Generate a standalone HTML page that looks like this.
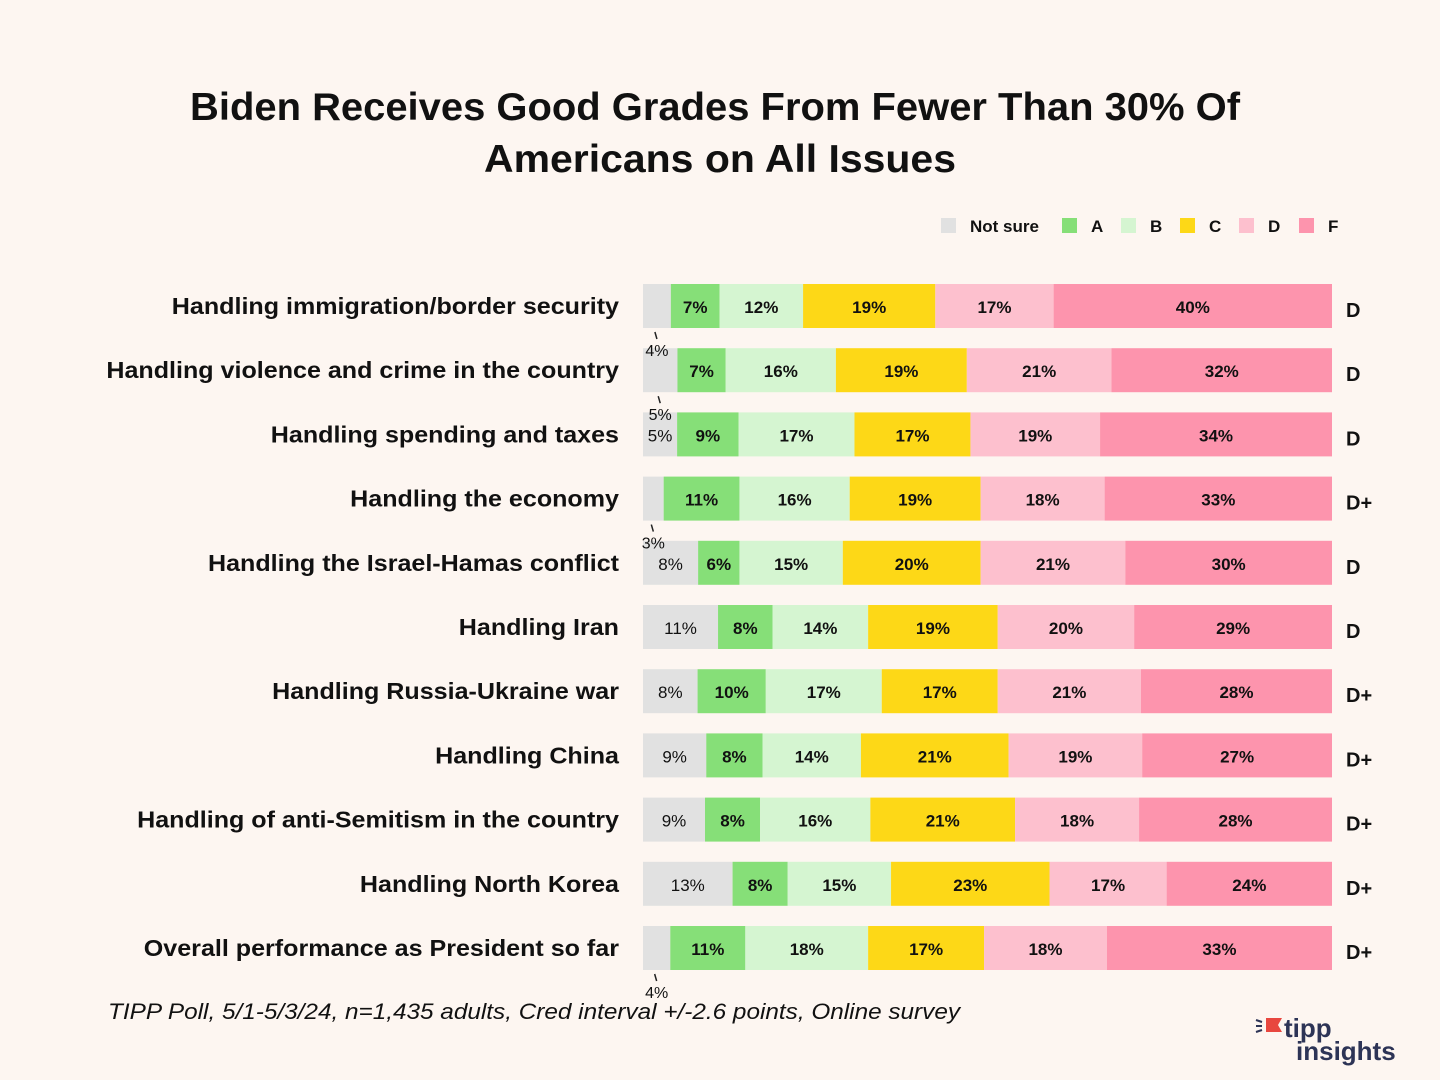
<!DOCTYPE html>
<html><head><meta charset="utf-8">
<style>
body{margin:0;background:#fdf6f1;}
svg{display:block;font-family:"Liberation Sans",sans-serif;}
</style></head>
<body>
<svg id="chart" width="1440" height="1080" viewBox="0 0 1440 1080">
<rect width="1440" height="1080" fill="#fdf6f1"/>
<text x="190" y="120" textLength="1050" lengthAdjust="spacingAndGlyphs" font-size="39" font-weight="bold" fill="#111">Biden Receives Good Grades From Fewer Than 30% Of</text>
<text x="484" y="172" textLength="472" lengthAdjust="spacingAndGlyphs" font-size="39" font-weight="bold" fill="#111">Americans on All Issues</text>
<g id="legend"></g>
<g id="bars"></g>
<text x="108" y="1019" textLength="852" lengthAdjust="spacingAndGlyphs" font-size="22" font-style="italic" fill="#111">TIPP Poll, 5/1-5/3/24, n=1,435 adults, Cred interval +/-2.6 points, Online survey</text>
<g>
<path d="M1266 1018 h16 l-4 7 l4 7 h-16 z" fill="#e8473f"/>
<line x1="1256" y1="1020" x2="1262" y2="1022" stroke="#2d3456" stroke-width="2"/>
<line x1="1256" y1="1026" x2="1262" y2="1026" stroke="#2d3456" stroke-width="2"/>
<line x1="1256" y1="1032" x2="1262" y2="1030" stroke="#2d3456" stroke-width="2"/>
<text x="1284" y="1037" font-size="26" font-weight="bold" fill="#2d3456">tipp</text>
<text x="1296" y="1060" font-size="26" font-weight="bold" fill="#2d3456">insights</text>
</g>
</svg>
<script>
const categories=["Handling immigration/border security","Handling violence and crime in the country","Handling spending and taxes","Handling the economy","Handling the Israel-Hamas conflict","Handling Iran","Handling Russia-Ukraine war","Handling China","Handling of anti-Semitism in the country","Handling North Korea","Overall performance as President so far"];
const notSure=[4,5,5,3,8,11,8,9,9,13,4];
const gradeA=[7,7,9,11,6,8,10,8,8,8,11];
const gradeB=[12,16,17,16,15,14,17,14,16,15,18];
const gradeC=[19,19,17,19,20,19,17,21,21,23,17];
const gradeD=[17,21,19,18,21,20,21,19,18,17,18];
const gradeF=[40,32,34,33,30,29,28,27,28,24,33];
const overall=["D","D","D","D+","D","D","D+","D+","D+","D+","D+"];
const calloutRows=[true,true,false,true,false,false,false,false,false,false,true];
const seriesNames=["Not sure","A","B","C","D","F"];
const series=[notSure,gradeA,gradeB,gradeC,gradeD,gradeF];
const colors=["#e1e1e1","#86df78","#d5f5d1","#fdd817","#fdc0ce","#fd94ad"];
const NS="http://www.w3.org/2000/svg";
function mk(t,a,p){const e=document.createElementNS(NS,t);for(const k in a)e.setAttribute(k,a[k]);p.appendChild(e);return e;}
const X0=643,X1=1332,Y0=284,STEP=64.2,H=44;
const yPos=i=>Y0+i*STEP;
const bars=document.getElementById('bars');
const callouts=[];
categories.forEach((c,i)=>{
  const y=yPos(i);
  const lab=mk('text',{x:619,y:y+30,'text-anchor':'end','font-size':23,'font-weight':'bold',fill:'#111'},bars);
  
  
  lab.textContent=c;
  const L=lab.getComputedTextLength();
  lab.setAttribute('textLength',(L*1.09).toFixed(1));
  lab.setAttribute('lengthAdjust','spacingAndGlyphs');
  const tot=series.reduce((s,a)=>s+a[i],0);
  const xs=v=>v/tot*(X1-X0);
  let x=X0;
  series.forEach((s,j)=>{
    const w=xs(s[i]);
    const r=mk('rect',{x:x,y:y,width:w,height:H,fill:colors[j]},bars);
    
    
    const cx=x+w/2;
    if(j===0&&calloutRows[i]){
      callouts.push([cx,y,s[i]]);
    } else {
      const t=mk('text',{x:cx,y:y+29,'text-anchor':'middle','font-size':17,'font-weight':j===0?'normal':'bold',fill:'#111'},bars);
      
      
      t.textContent=s[i]+'%';
    }
    x+=w;
  });
  const g=mk('text',{x:1346,y:y+33,'font-size':20,'font-weight':'bold',fill:'#111'},bars);
  
  
  g.textContent=overall[i];
});
callouts.forEach(([cx,y,v])=>{
  mk('line',{x1:cx-2,y1:y+H+4,x2:cx,y2:y+H+11,stroke:'#222','stroke-width':1.5},bars);
  const t=mk('text',{x:cx,y:y+H+28,'text-anchor':'middle','font-size':16,fill:'#111'},bars);
  
  
  t.textContent=v+'%';
});
const lg=document.getElementById('legend');
const lx=[941,1062,1121,1180,1239,1299];
seriesNames.forEach((n,j)=>{
  const r=mk('rect',{x:lx[j],y:218,width:15,height:15,fill:colors[j]},lg);
  
  
  const t=mk('text',{x:lx[j]+29,y:232,'font-size':17,'font-weight':'bold',fill:'#111'},lg);
  
  
  t.textContent=n;
});
</script>
</body></html>
